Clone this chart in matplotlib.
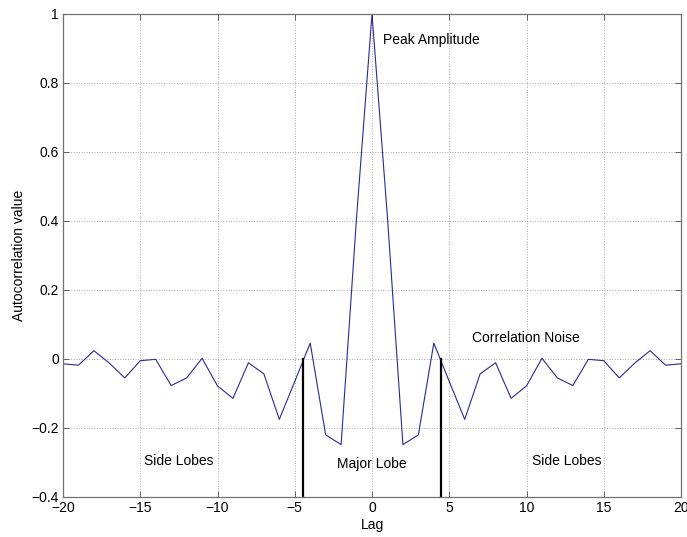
import matplotlib
matplotlib.use("Agg")
import matplotlib.pyplot as plt
from matplotlib.ticker import FuncFormatter

# Autocorrelation of the sequence at integer lags
lags = list(range(-20, 21))
autocorr = [
    -0.014, -0.018, 0.024, -0.012, -0.055, -0.005, -0.001, -0.077, -0.055, 0.002,
    -0.078, -0.114, -0.011, -0.043, -0.175, -0.065, 0.046, -0.220, -0.248, 0.410,
    1.000,
    0.410, -0.248, -0.220, 0.046, -0.065, -0.175, -0.043, -0.011, -0.114, -0.078,
    0.002, -0.055, -0.077, -0.001, -0.005, -0.055, -0.012, 0.024, -0.018, -0.014,
]

# Boundaries of the major lobe (zero crossings)
lobe_edges = [-4.45, 4.45]

x_ticks = [-20, -15, -10, -5, 0, 5, 10, 15, 20]
y_ticks = [-0.4, -0.2, 0, 0.2, 0.4, 0.6, 0.8, 1]

annotations = [
    ("Peak Amplitude", 0.7, 0.925),
    ("Correlation Noise", 6.5, 0.06),
    ("Side Lobes", -14.75, -0.297),
    ("Major Lobe", -2.25, -0.305),
    ("Side Lobes", 10.35, -0.297),
]

plt.rcParams['font.family'] = ['Liberation Sans', 'DejaVu Sans']

fig = plt.figure(figsize=(6.87, 5.37), dpi=100)
ax = fig.add_axes([0.0917, 0.0745, 0.8996, 0.8995])

ax.plot(lags, autocorr, color='#2a2a96', linewidth=0.8)
for xe in lobe_edges:
    ax.plot([xe, xe], [-0.4, 0], color='black', linewidth=1.6)

for text, tx, ty in annotations:
    ax.text(tx, ty, text, fontsize=10, ha='left', va='center', color='black')

ax.set_xlim(-20, 20)
ax.set_ylim(-0.4, 1)
ax.set_xticks(x_ticks)
ax.set_yticks(y_ticks)
ax.yaxis.set_major_formatter(FuncFormatter(lambda v, p: ('%g' % round(v, 2)).replace('-', '\u2212')))
ax.xaxis.set_major_formatter(FuncFormatter(lambda v, p: ('%g' % v).replace('-', '\u2212')))

ax.grid(True, linestyle=':', color='#a8a8a8', linewidth=0.7)
ax.tick_params(direction='in', top=True, right=True, length=4, width=0.7,
               color='#606060', labelsize=10, pad=3)
for s in ax.spines.values():
    s.set_color('#707070')
    s.set_linewidth(0.9)

ax.set_xlabel('Lag', fontsize=10, labelpad=2)
ax.set_ylabel('Autocorrelation value', fontsize=10, labelpad=4)

fig.savefig('out.png', dpi=100)
